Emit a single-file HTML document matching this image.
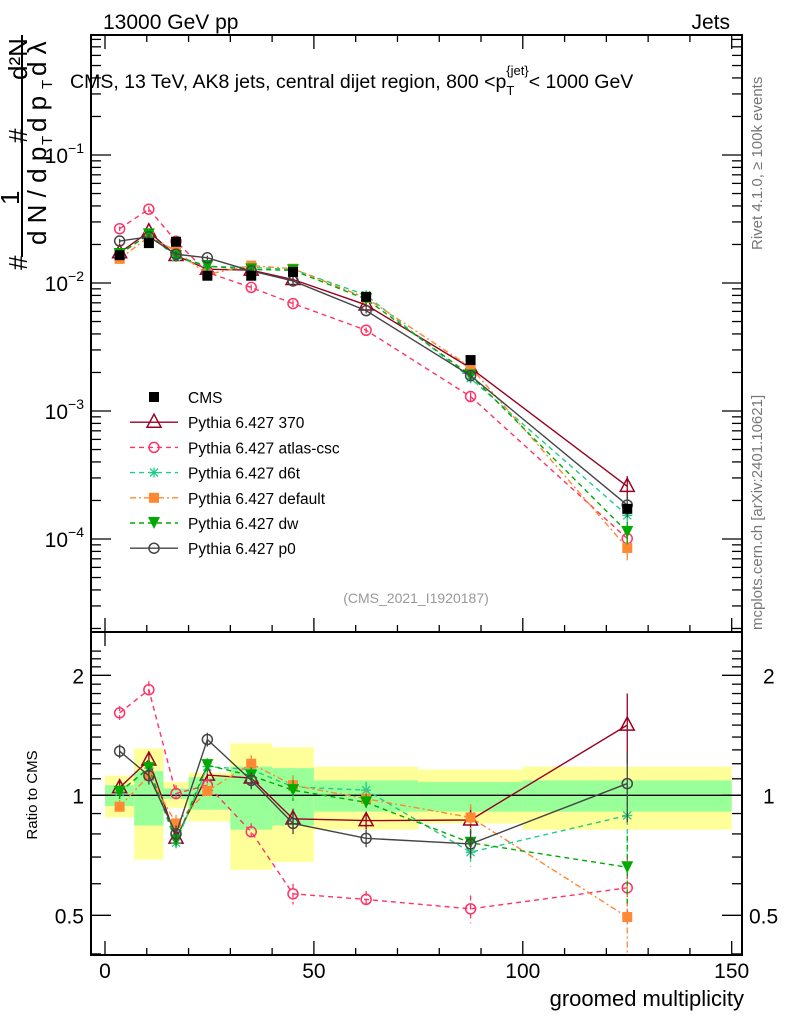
<!DOCTYPE html>
<html><head><meta charset="utf-8"><style>
body{margin:0;background:#fff}
svg{display:block;font-family:"Liberation Sans",sans-serif}
</style></head><body>
<svg id="chart" width="786" height="1024" viewBox="0 0 786 1024" xmlns="http://www.w3.org/2000/svg">
<g id="bands"></g>
<g id="axes"></g>
<g id="series"></g>
<text x="103" y="29" font-size="21">13000 GeV pp</text>
<text x="730" y="29" font-size="21" text-anchor="end">Jets</text>
<text x="70" y="88" font-size="19.5">CMS, 13 TeV, AK8 jets, central dijet region, 800 &lt;p<tspan font-size="13" dy="7">T</tspan><tspan font-size="13" dy="-20" dx="-8">{jet}</tspan><tspan dy="13">&lt; 1000 GeV</tspan></text>
<text x="416" y="603" font-size="14" fill="#999" text-anchor="middle">(CMS_2021_I1920187)</text>
<text transform="translate(762,250) rotate(-90)" font-size="15" fill="#777">Rivet 4.1.0, ≥ 100k events</text>
<text transform="translate(762,630) rotate(-90)" font-size="15" fill="#777">mcplots.cern.ch [arXiv:2401.10621]</text>
<g font-size="26">
<text transform="translate(27,270) rotate(-90)">#</text>
<text transform="translate(19,205) rotate(-90)">1</text>
<text transform="translate(27,143) rotate(-90)">#</text>
<text transform="translate(27,80) rotate(-90)">d²N</text>
<line x1="22" y1="35" x2="22" y2="257" stroke="#000" stroke-width="2"/>
<text transform="translate(46,245) rotate(-90)">d N / d p</text>
<text transform="translate(52,145) rotate(-90)" font-size="15">T</text>
<text transform="translate(46,132) rotate(-90)">d p</text>
<text transform="translate(52,89) rotate(-90)" font-size="15">T</text>
<text transform="translate(46,76) rotate(-90)">d λ</text>
</g>
<text transform="translate(37,795) rotate(-90)" font-size="15" text-anchor="middle">Ratio to CMS</text>
<text x="744" y="1006" font-size="22" text-anchor="end">groomed multiplicity</text>
<g id="legend"></g>
</svg>
<script>
const xVals=[3.5,10.5,17,24.5,35,45,62.5,87.5,125];
const cmsVals=[0.0165,0.0205,0.021,0.0114,0.0114,0.0122,0.0078,0.0025,0.000172];
const relErr=[0.04,0.05,0.05,0.04,0.05,0.06,0.05,0.08,0.2];
const r370=[1.045,1.226,0.781,1.124,1.105,0.873,0.864,0.867,1.50];
const rAtlas=[1.61,1.84,1.01,1.06,0.81,0.566,0.548,0.519,0.586];
const rD6t=[1.02,1.17,0.76,1.18,1.16,1.05,1.03,0.72,0.89];
const rDefault=[0.936,1.12,0.85,1.025,1.20,1.06,0.98,0.88,0.495];
const rDw=[1.02,1.17,0.77,1.19,1.12,1.03,0.96,0.76,0.66];
const rP0=[1.29,1.12,0.80,1.38,1.09,0.85,0.78,0.755,1.07];
const binEdges=[0,7,14,20,30,40,50,75,100,150];
const greenHi=[1.06,1.15,1.04,1.11,1.18,1.17,1.09,1.08,1.09];
const greenLo=[0.94,0.84,0.98,0.92,0.82,0.84,0.91,0.91,0.91];
const yellowHi=[1.12,1.31,1.08,1.14,1.35,1.32,1.18,1.16,1.18];
const yellowLo=[0.88,0.69,0.93,0.86,0.65,0.68,0.82,0.85,0.82];
const xTicks=[0,50,100,150];
const mainTicks=[-4,-3,-2,-1];
const ratioTicks=[0.5,1,2];

const NS="http://www.w3.org/2000/svg";
const L=91,R=742,T=35,MB=632,B=955;
const X=v=>105+v*4.178;
const YM=v=>283-128*Math.log10(v/0.01);
const YR=r=>795.3-120*Math.log2(r);
function mk(tag,attrs,parent){const e=document.createElementNS(NS,tag);for(const k in attrs)e.setAttribute(k,attrs[k]);parent.appendChild(e);return e;}
const bands=document.getElementById('bands'),axes=document.getElementById('axes'),ser=document.getElementById('series'),leg=document.getElementById('legend');

for(let i=0;i<binEdges.length-1;i++){
 const a=X(binEdges[i]),b=X(binEdges[i+1]);
 let y=mk('rect',{x:a,y:YR(yellowHi[i]),width:b-a,height:YR(yellowLo[i])-YR(yellowHi[i]),fill:'#ffff99'},bands);
 
 
 let g=mk('rect',{x:a,y:YR(greenHi[i]),width:b-a,height:YR(greenLo[i])-YR(greenHi[i]),fill:'#99ff99'},bands);
 
 
}
mk('line',{x1:L,x2:R,y1:YR(1),y2:YR(1),stroke:'#000','stroke-width':1.3},axes);
mk('rect',{x:L,y:T,width:R-L,height:MB-T,fill:'none',stroke:'#000','stroke-width':2},axes);
mk('rect',{x:L,y:MB,width:R-L,height:B-MB,fill:'none',stroke:'#000','stroke-width':2},axes);
for(let v=0;v<=155;v+=10){const x=X(v);if(x>R)break;const big=v%50===0;
 for(const [y0,s] of [[MB,-1],[T,1],[B,-1]]){mk('line',{x1:x,x2:x,y1:y0,y2:y0+s*(big?14:7),stroke:'#000','stroke-width':1.3},axes);}
 if(v===0) mk('line',{x1:x,x2:x,y1:MB,y2:MB+14,stroke:'#000','stroke-width':1.3},axes);
}
xTicks.forEach(v=>{const t=mk('text',{x:X(v),y:978,'font-size':21,'text-anchor':'middle'},axes);t.textContent=v;
 
 });
for(let d=-5;d<0;d++){for(let m=1;m<10;m++){const yy=283-128*(d+2+Math.log10(m));if(yy<T||yy>MB)continue;const len=m===1?20:10;
 mk('line',{x1:L,x2:L+len,y1:yy,y2:yy,stroke:'#000','stroke-width':1.3},axes);mk('line',{x1:R,x2:R-len,y1:yy,y2:yy,stroke:'#000','stroke-width':1.3},axes);}}
mainTicks.forEach(p=>{const yy=283-128*(p+2);const t=mk('text',{x:84,y:yy+8,'font-size':21,'text-anchor':'end'},axes);
 t.innerHTML='10<tspan font-size="14" dy="-10">−'+(-p)+'</tspan>';
 
 });
[0.4,0.5,0.6,0.7,0.8,0.9,1,1.1,1.2,1.3,1.4,1.5,1.6,1.7,1.8,1.9,2,2.1,2.2,2.3].forEach(r=>{const yy=YR(r);if(yy<MB||yy>B)return;const big=[0.5,1,2].includes(r);const len=big?20:10;
 mk('line',{x1:L,x2:L+len,y1:yy,y2:yy,stroke:'#000','stroke-width':1.3},axes);mk('line',{x1:R,x2:R-len,y1:yy,y2:yy,stroke:'#000','stroke-width':1.3},axes);});
ratioTicks.forEach(r=>{for(const [x,a] of [[84,'end'],[r<1?749:763,'start']]){const t=mk('text',{x:x,y:YR(r)+8,'font-size':21,'text-anchor':a},axes);t.textContent=r;
 
 }});

function marker(g,type,x,y,c){
 if(type==='sq')mk('rect',{x:x-5,y:y-5,width:10,height:10,fill:c},g);
 else if(type==='tri')mk('path',{d:`M${x},${y-8}L${x+7},${y+5}L${x-7},${y+5}Z`,fill:'none',stroke:c,'stroke-width':1.5},g);
 else if(type==='circ')mk('circle',{cx:x,cy:y,r:5,fill:'none',stroke:c,'stroke-width':1.5},g);
 else if(type==='star')mk('path',{d:`M${x-5},${y}h10M${x},${y-5}v10M${x-4},${y-4}l8,8M${x-4},${y+4}l8,-8`,stroke:c,'stroke-width':1.3},g);
 else if(type==='dtri')mk('path',{d:`M${x-6},${y-6}L${x+6},${y-6}L${x},${y+6}Z`,fill:c},g);
}
const series=[
 {name:'Pythia 6.427 370',r:r370,c:'#990022',m:'tri',dash:'',key:'pythia-370'},
 {name:'Pythia 6.427 atlas-csc',r:rAtlas,c:'#ff3366',m:'circ',dash:'5,4',key:'pythia-atlas-csc'},
 {name:'Pythia 6.427 d6t',r:rD6t,c:'#22cc88',m:'star',dash:'5,4',key:'pythia-d6t'},
 {name:'Pythia 6.427 default',r:rDefault,c:'#ff8833',m:'sq',dash:'6,3,2,3',key:'pythia-default'},
 {name:'Pythia 6.427 dw',r:rDw,c:'#00aa00',m:'dtri',dash:'5,4',key:'pythia-dw'},
 {name:'Pythia 6.427 p0',r:rP0,c:'#444444',m:'circ',dash:'',key:'pythia-p0'}];
series.forEach(s=>{
 const g=mk('g',{},ser);
 
 
 const mv=s.r.map((r,i)=>r*cmsVals[i]);
 mk('polyline',{points:xVals.map((x,i)=>X(x)+','+YM(mv[i])).join(' '),fill:'none',stroke:s.c,'stroke-width':1.4,'stroke-dasharray':s.dash},g);
 mk('polyline',{points:xVals.map((x,i)=>X(x)+','+YR(s.r[i])).join(' '),fill:'none',stroke:s.c,'stroke-width':1.4,'stroke-dasharray':s.dash},g);
 xVals.forEach((x,i)=>{const e=relErr[i];
  mk('line',{x1:X(x),x2:X(x),y1:YR(s.r[i]*(1+e)),y2:YR(s.r[i]*(1-e)),stroke:s.c,'stroke-width':1.3,'stroke-dasharray':s.dash},g);
  mk('line',{x1:X(x),x2:X(x),y1:YM(mv[i]*(1+e)),y2:YM(mv[i]*(1-e)),stroke:s.c,'stroke-width':1.3},g);
  marker(g,s.m,X(x),YM(mv[i]),s.c);marker(g,s.m,X(x),YR(s.r[i]),s.c);});
});
const cg=mk('g',{},ser);


xVals.forEach((x,i)=>{marker(cg,'sq',X(x),YM(cmsVals[i]),'#000');});
const entries=[{name:'CMS',c:'#000',m:'sq',dash:null}].concat(series);
entries.forEach((s,i)=>{const y=397+i*25.2;
 const g=mk('g',{},leg);
 
 
 if(s.dash!==null)mk('line',{x1:130,x2:178,y1:y,y2:y,stroke:s.c,'stroke-width':1.4,'stroke-dasharray':s.dash},g);
 marker(g,s.m,154,y,s.c);
 const t=mk('text',{x:188,y:y+6,'font-size':15.5},g);t.textContent=s.name;});
</script>
</body></html>
